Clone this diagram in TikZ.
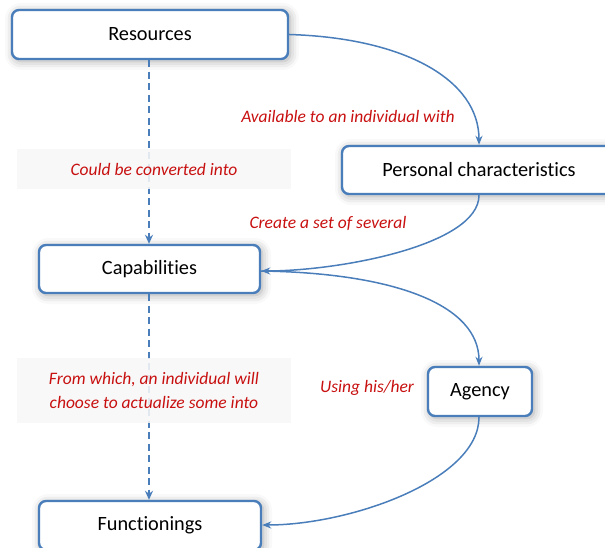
\documentclass[tikz,border=0pt]{standalone}
\usepackage{fontspec}
\setmainfont{Carlito}[Ligatures=NoCommon]
\usetikzlibrary{arrows.meta,shadows.blur}
\definecolor{bblue}{RGB}{74,126,187}
\definecolor{lred}{RGB}{200,16,16}
\definecolor{lbg}{RGB}{247,247,247}
\tikzset{
  box/.style={draw=bblue, line width=2.4pt, rounded corners=7pt, fill=white,
    font=\fontsize{20.3}{22}\selectfont, inner sep=0pt,
    blur shadow={shadow xshift=2pt, shadow yshift=-2pt, shadow blur radius=9pt, shadow opacity=35}},
  lab/.style={text=lred, font=\fontsize{17.5}{24}\selectfont\itshape, inner sep=0pt, align=center},
  labbg/.style={lab, fill=lbg, fill opacity=0.88, text opacity=1},
  curv/.style={draw=bblue, line width=1.5pt, -{Stealth[length=9pt,width=7pt]}},
  dsh/.style={draw=bblue, line width=2.6pt, dash pattern=on 7pt off 4.5pt, -{Stealth[length=9pt,width=8pt]}}
}
\begin{document}
\begin{tikzpicture}[x=1pt,y=-1pt]
\useasboundingbox (0,0) rectangle (605,548);
\begin{scope}
\clip (0,0) rectangle (605,548);
\node[box, minimum width=276pt, minimum height=49pt] (res) at (150,34.5) {Resources};
\node[box, minimum width=274pt, minimum height=48pt] (pers) at (479,170) {Personal characteristics};
\node[box, minimum width=221pt, minimum height=48pt] (cap) at (149.5,269) {Capabilities};
\node[box, minimum width=104pt, minimum height=49pt] (agen) at (480,391.5) {Agency};
\node[box, minimum width=222pt, minimum height=49pt] (func) at (150,525.5) {Functionings};

\draw[dsh] (res.south -| 149,0) -- (cap.north -| 149,0);
\draw[dsh] (cap.south -| 149,0) -- (func.north -| 149,0);

\node[labbg, minimum width=274pt, minimum height=40pt] (conv) at (154,169) {Could be converted into};
\node[labbg, minimum width=274pt, minimum height=65pt] (from) at (154,390.5) {From which, an individual will\\choose to actualize some into};

\node[lab] (avail) at (348,116) {Available to an individual with};
\node[lab] (create) at (328,223) {Create a set of several};
\node[lab] (using) at (367,388) {Using his/her};

\draw[curv] (res.east) .. controls (405,38) and (479,80) .. (pers.north -| 479,0);
\draw[curv] (pers.south -| 479,0) .. controls (479,245) and (340,271) .. (cap.east |- 0,271);
\draw[curv] (cap.east |- 0,271) .. controls (395,273) and (479,305) .. (agen.north -| 479,0);
\draw[curv] (agen.south -| 479,0) .. controls (479,480) and (350,525) .. (func.east |- 0,525);
\end{scope}
\end{tikzpicture}
\end{document}
